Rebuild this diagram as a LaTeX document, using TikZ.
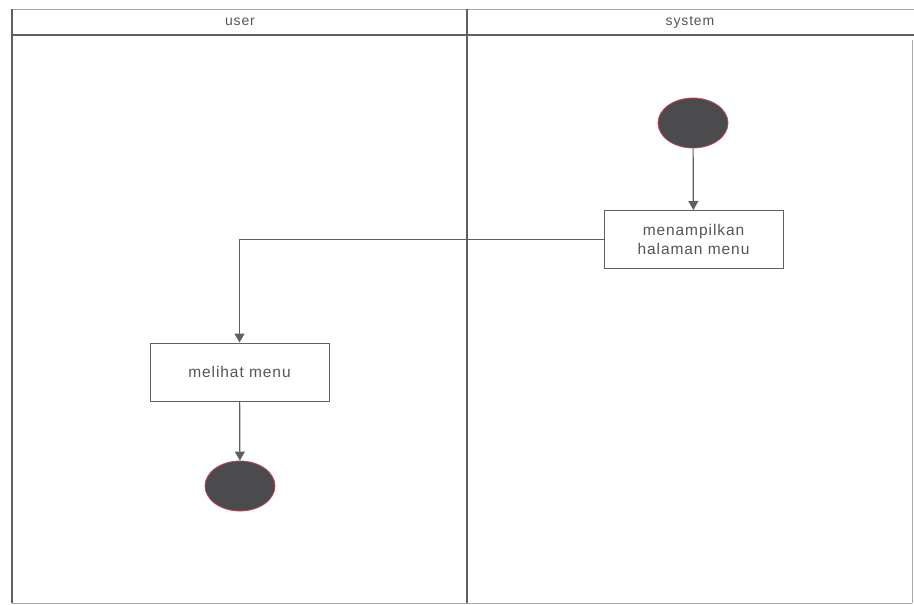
\documentclass[tikz,border=0pt]{standalone}
\usepackage{fontspec}
\setmainfont{Liberation Sans}[LetterSpace=6]
\usetikzlibrary{arrows.meta,shapes.geometric}
\definecolor{lane}{HTML}{5F5F5F}
\definecolor{faint}{HTML}{A8A8A8}
\definecolor{nodefill}{HTML}{4B4B4D}
\definecolor{noderim}{HTML}{C0485A}
\definecolor{txt}{HTML}{555555}
\begin{document}
\begin{tikzpicture}[x=1pt,y=-1pt,
  lanes/.style={draw=lane,line width=1.4pt},
  edge/.style={draw=faint,line width=1pt},
  action/.style={draw=lane,line width=1pt,fill=white,minimum width=179pt,minimum height=58pt,
    align=center,text=txt,font=\fontsize{15.5}{19}\selectfont,inner sep=0pt},
  terminal/.style={ellipse,draw=noderim,line width=0.8pt,fill=nodefill,minimum width=70pt,minimum height=50pt,inner sep=0pt},
  flow/.style={draw=lane,line width=1.2pt,-{Triangle[length=9pt,width=10pt]}},
  lanelabel/.style={text=txt,font=\fontsize{14}{16}\selectfont}]
  \useasboundingbox (0,0) rectangle (914,605);
  % swimlane frame
  \draw[edge] (12,9) -- (914,9);
  \draw[edge] (912,40) -- (912,603);
  \draw[edge] (12,603) -- (912,603);
  \draw[lanes] (12,9) -- (12,603);
  \draw[draw=lane,line width=2pt] (12,35) -- (914,35);
  \draw[lanes] (467,9) -- (467,603);
  \node[lanelabel] (luser) at (240,22) {user};
  \node[lanelabel] (lsystem) at (690,22) {system};
  % activity nodes
  \node[terminal] (start) at (693,123) {};
  \node[action] (show) at (693.5,239.5) {menampilkan\\halaman menu};
  \node[action] (see) at (239.5,372) {melihat menu};
  \node[terminal] (stop) at (240,486) {};
  % control flow
  \draw[flow] (start) -- (show);
  \draw[flow] (show.west) -| (see.north);
  \draw[flow] (see) -- (stop);
\end{tikzpicture}
\end{document}
